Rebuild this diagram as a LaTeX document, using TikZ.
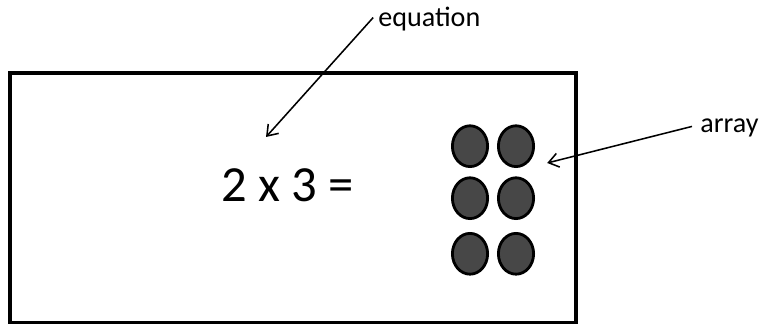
\documentclass[tikz,border=0pt]{standalone}
\usepackage{fontspec}
\setmainfont{Carlito}
\usetikzlibrary{shapes.geometric,arrows.meta}
\begin{document}
\begin{tikzpicture}[
  font=\fontsize{20}{22}\selectfont,
  counter/.style={draw=black, line width=2pt, ellipse, minimum width=0.88cm, minimum height=1.02cm, fill=black!72},
  callout/.style={anchor=base west, inner sep=0pt},
  pointer/.style={-{Straight Barb[length=7pt,width=10pt]}, line width=1.1pt}
]
\useasboundingbox (0,0) rectangle (19,8.125);
\draw[line width=2.2pt] (0.25,0.06) rectangle (14.4,6.3);

\node[callout, font=\fontsize{36}{40}\selectfont] (eqn) at (5.52,3.08) {2 x 3 =};

\node[counter] (d1) at (11.75,4.47) {};
\node[counter] (d2) at (12.9,4.47) {};
\node[counter] (d3) at (11.75,3.17) {};
\node[counter] (d4) at (12.9,3.17) {};
\node[counter] (d5) at (11.75,1.78) {};
\node[counter] (d6) at (12.9,1.78) {};

\node[callout] (lbleq) at (9.45,7.45) {equation};
\node[callout] (lblarr) at (17.5,4.8) {array};

\coordinate (eqtip) at (6.65,4.7);
\coordinate (arrtip) at (13.68,4.05);

\draw[pointer] (lbleq.west) ++(-0.12,0.05) -- (eqtip);
\draw[pointer] (lblarr.west) ++(-0.2,0.05) -- (arrtip);
\end{tikzpicture}
\end{document}
